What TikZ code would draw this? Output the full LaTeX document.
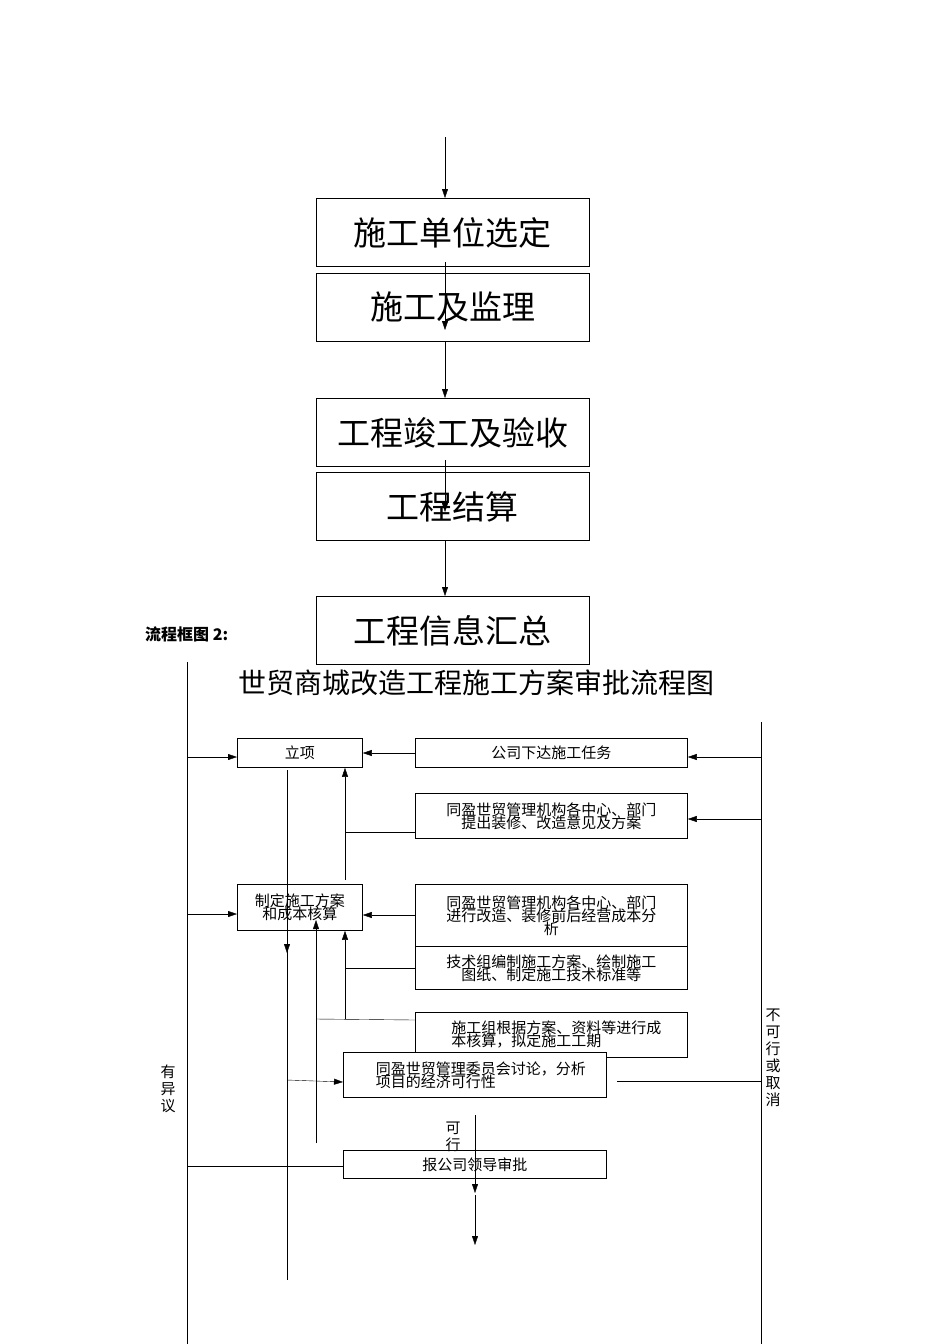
\documentclass[tikz,border=0pt]{standalone}
\usepackage{fontspec}
\setmainfont{Liberation Serif}
\newfontfamily\cjk{Noto Sans CJK SC}
\usetikzlibrary{arrows.meta}
\begin{document}
\begin{tikzpicture}[x=1pt,y=-1pt,
  big/.style={draw,thick,minimum width=273pt,minimum height=68pt,inner sep=0pt,font=\cjk\fontsize{33}{36}\selectfont,anchor=north west},
  sm/.style={draw,thick,inner sep=0pt,anchor=north west,font=\cjk\fontsize{15}{16}\selectfont,align=center},
  ar/.style={-{Triangle[length=9pt,width=6pt]}},
  ln/.style={thin}]
\useasboundingbox (0,0) rectangle (950,1344);
% top chain
\node[big] (b1) at (316,198) {施工单位选定};
\node[big] (b2) at (316,273) {施工及监理};
\node[big] (b3) at (316,398) {工程竣工及验收};
\node[big] (b4) at (316,472) {工程结算};
\node[big] (b5) at (316,596) {工程信息汇总};
\coordinate (t0) at (445,137);
\coordinate (t1) at (445,262); \coordinate (t2) at (445,330);
\coordinate (t3) at (445,460); \coordinate (t4) at (445,512);
\draw[ar] (t0) -- (b1.north -| t0);
\draw[ar] (t1) -- (t2);
\draw[ar] (b2.south -| t0) -- (b3.north -| t0);
\draw[ar] (t3) -- (t4);
\draw[ar] (b4.south -| t0) -- (b5.north -| t0);
\node[anchor=west,font=\cjk\bfseries\fontsize{16}{18}\selectfont,inner sep=0] (lab) at (145,634) {流程框图 2:};
\node[font=\cjk\fontsize{28}{30}\selectfont] (title) at (476,683) {世贸商城改造工程施工方案审批流程图};
% lower
\coordinate (L0) at (187,662); \coordinate (L1) at (187,1344);
\coordinate (R0) at (761,722); \coordinate (R1) at (761,1344);
\draw[ln] (L0) -- (L1); \draw[ln] (R0) -- (R1);
\node[sm,minimum width=125pt,minimum height=29pt] (lx) at (237,738) {立项};
\node[sm,minimum width=272pt,minimum height=29pt] (gs) at (415,738) {公司下达施工任务};
\node[sm,minimum width=272pt,minimum height=45pt] (tc) at (415,793) {同盈世贸管理机构各中心、部门\\[-3pt]提出装修、改造意见及方案};
\node[sm,minimum width=125pt,minimum height=46pt] (zd) at (237,884) {制定施工方案\\[-3pt]和成本核算};
\node[sm,minimum width=272pt,minimum height=62pt] (fx) at (415,884) {同盈世贸管理机构各中心、部门\\[-3pt]进行改造、装修前后经营成本分\\[-3pt]析};
\node[sm,minimum width=272pt,minimum height=43pt] (js) at (415,946) {技术组编制施工方案、绘制施工\\[-3pt]图纸、制定施工技术标准等};
\node[sm,minimum width=272pt,minimum height=45pt,align=left] (sg) at (415,1012) {\hspace*{10pt}施工组根据方案、资料等进行成\\[-3pt]\hspace*{10pt}本核算，拟定施工工期};
\node[sm,minimum width=263pt,minimum height=45pt,fill=white,align=left] (wy) at (343,1052) {\hspace*{12pt}同盈世贸管理委员会讨论，分析\\[-3pt]\hspace*{12pt}项目的经济可行性};
\node[sm,minimum width=263pt,minimum height=28pt] (bg) at (343,1150) {报公司领导审批};
\draw[ar] (gs.west |- 0,753) -- (lx.east |- 0,753);
\draw[ar] (761,757) -- (gs.east |- 0,757);
\draw[ar] (187,757) -- (lx.west |- 0,757);
\draw[ar] (761,819) -- (tc.east |- 0,819);
\draw[ln] (tc.west |- 0,832) -- (345,832);
\draw[ar] (345,880) -- (lx.south -| 345,0);
\draw[ar] (fx.west |- 0,915) -- (zd.east |- 0,915);
\draw[ar] (187,914) -- (zd.west |- 0,914);
\draw[ln] (287,770) -- (287,1280);
\draw[ar] (287,925) -- (287,953);
\draw[ln] (js.west |- 0,968) -- (345,968);
\draw[ln] (sg.west |- 0,1020) -- (316,1019);
\draw[ar] (345,1019) -- (zd.south -| 345,0);
\draw[ar] (316,1143) -- (316,920);
\draw[ar] (287,1080) -- (wy.west |- 0,1082);
\draw[ln] (617,1081) -- (761,1081);
\draw[ar] (475,1115) -- (475,1193);
\draw[ln] (bg.west |- 0,1166) -- (187,1166);
\draw[ar] (475,1195) -- (475,1245);
\node[font=\cjk\fontsize{15}{17}\selectfont,align=center] (kx) at (453,1137) {可\\行};
\node[font=\cjk\fontsize{15}{17}\selectfont,align=center] (yy) at (168,1089) {有\\异\\议};
\node[font=\cjk\fontsize{15}{17}\selectfont,align=center] (bk) at (773,1058) {不\\可\\行\\或\\取\\消};
\end{tikzpicture}
\end{document}
